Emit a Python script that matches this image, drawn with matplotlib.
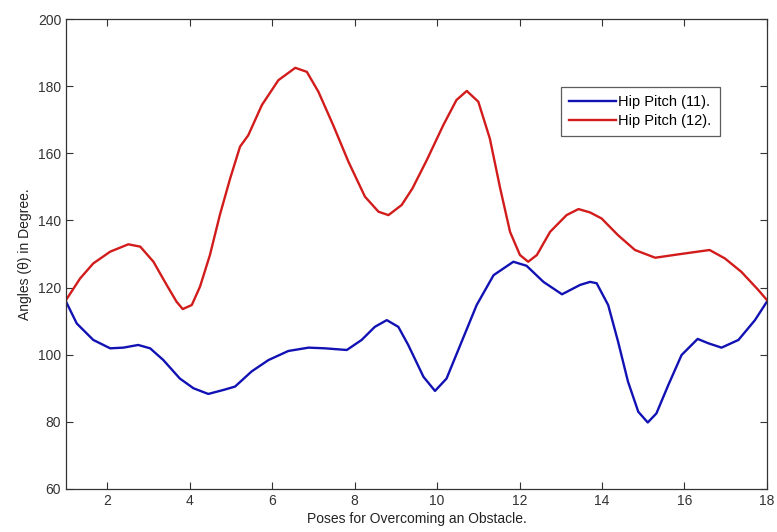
import matplotlib
matplotlib.use('Agg')
import matplotlib.pyplot as plt

# values
x_11 = [1.0, 1.26, 1.66, 2.07, 2.39, 2.75, 3.04, 3.36, 3.76, 4.09, 4.45, 4.82, 5.1,
        5.5, 5.91, 6.39, 6.88, 7.28, 7.81, 8.17, 8.49, 8.78, 9.06, 9.3, 9.67, 9.95,
        10.23, 10.56, 10.96, 11.37, 11.85, 12.17, 12.58, 13.03, 13.47, 13.71, 13.87,
        14.15, 14.39, 14.63, 14.88, 15.11, 15.32, 15.61, 15.93, 16.32, 16.58, 16.9,
        17.31, 17.71, 18.0]
hip_11 = [115.8, 109.3, 104.4, 101.9, 102.1, 102.9, 101.9, 98.4, 92.9, 90.0, 88.3, 89.5, 90.5,
          95.0, 98.4, 101.1, 102.1, 101.9, 101.4, 104.4, 108.3, 110.3, 108.3, 102.9, 93.4, 89.2,
          92.9, 102.8, 114.8, 123.7, 127.7, 126.5, 121.7, 118.0, 120.8, 121.7, 121.3,
          114.8, 103.9, 92.0, 83.0, 79.8, 82.5, 91.0, 99.9, 104.7, 103.4, 102.1,
          104.4, 110.3, 115.8]

x_12 = [1.0, 1.34, 1.66, 2.07, 2.51, 2.8, 3.12, 3.44, 3.68, 3.83, 4.05, 4.25, 4.49, 4.73,
        4.98, 5.22, 5.42, 5.75, 6.15, 6.56, 6.84, 7.12, 7.48, 7.85, 8.25, 8.58, 8.82,
        9.14, 9.4, 9.75, 10.15, 10.47, 10.72, 11.0, 11.28, 11.53, 11.77, 12.01, 12.21,
        12.42, 12.74, 13.14, 13.43, 13.71, 13.99, 14.39, 14.8, 15.29, 15.85, 16.61,
        16.98, 17.38, 17.79, 18.0]
hip_12 = [116.3, 122.7, 127.2, 130.7, 132.9, 132.2, 127.7, 120.8, 115.8, 113.6, 114.8, 120.3, 129.7, 141.6,
          152.5, 162.0, 165.4, 174.4, 181.8, 185.5, 184.3, 178.4, 168.4, 157.5, 147.1, 142.6, 141.6,
          144.6, 149.5, 158.0, 168.4, 175.9, 178.6, 175.4, 164.4, 149.6, 136.6, 129.7, 127.7,
          129.7, 136.6, 141.6, 143.4, 142.4, 140.6, 135.6, 131.2, 128.9, 129.9, 131.2,
          128.7, 124.7, 119.3, 116.3]

labels = ['Hip Pitch (11).', 'Hip Pitch (12).']
x_ticks = [2, 4, 6, 8, 10, 12, 14, 16, 18]
y_ticks = [60, 80, 100, 120, 140, 160, 180, 200]

plt.rcParams['font.family'] = ['Liberation Sans', 'DejaVu Sans']

fig = plt.figure(figsize=(7.77, 5.32), dpi=100)
ax = fig.add_axes([0.085, 0.081, 0.902, 0.883])

ax.plot(x_11, hip_11, color='#1212b4', lw=1.7, label=labels[0],
        solid_joinstyle='round')
ax.plot(x_12, hip_12, color='#d21c1c', lw=1.7, label=labels[1],
        solid_joinstyle='round')

ax.set_xlim(1, 18)
ax.set_ylim(60, 200)
ax.set_xticks(x_ticks)
ax.set_yticks(y_ticks)
ax.tick_params(direction='in', top=True, right=True, length=5, width=0.8,
               labelsize=10, colors='#333333')
for sp in ax.spines.values():
    sp.set_color('#333333')
    sp.set_linewidth(0.9)

ax.set_xlabel('Poses for Overcoming an Obstacle.', fontsize=10, color='#222222', labelpad=3)
ax.set_ylabel('Angles (θ) in Degree.', fontsize=10, color='#222222', labelpad=4)

leg = ax.legend(loc='upper left', bbox_to_anchor=(0.706, 0.856), fontsize=10.5,
                frameon=True, fancybox=False, borderpad=0.55, handlelength=3.2,
                handletextpad=0.2, labelspacing=0.35, borderaxespad=0)
leg.get_frame().set_edgecolor('#333333')
leg.get_frame().set_linewidth(0.9)

fig.savefig('out.png', dpi=100)
